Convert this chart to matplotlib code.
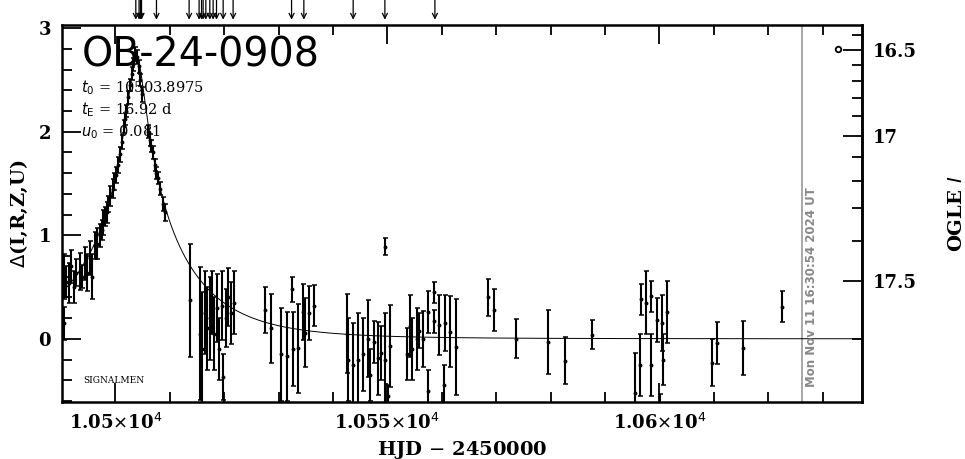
import numpy as np
import matplotlib.pyplot as plt
from matplotlib.ticker import MultipleLocator, FixedLocator

# event parameters (as printed on the chart)
t0, tE, u0 = 10503.8975, 16.92, 0.081

# observations: HJD-2450000, Delta(I,R,Z,U), error
t_obs = [10490.3, 10490.5, 10490.55, 10491.0, 10491.45, 10491.95, 10492.35, 10492.75,
         10493.45, 10493.8, 10494.4, 10494.8, 10495.3, 10495.75, 10496.2, 10496.65, 10497.15,
         10497.5, 10497.75, 10498.1, 10498.4, 10498.7, 10499.0, 10499.5, 10499.8, 10500.1,
         10500.5, 10500.8, 10501.15, 10501.55, 10501.8, 10502.05, 10502.4, 10502.7, 10503.0,
         10503.3, 10503.7, 10503.95, 10504.3, 10504.6, 10504.85, 10505.95, 10506.3, 10506.6,
         10506.9, 10507.25, 10507.55, 10507.8, 10508.2, 10508.7, 10509.1,
         10513.7, 10515.53, 10515.9, 10516.45, 10516.82, 10517.37, 10517.74, 10518.1,
         10518.66, 10519.0, 10519.58, 10519.76, 10520.31, 10520.68, 10521.23, 10521.78,
         10527.48, 10528.58, 10530.42, 10531.52, 10532.44, 10532.63, 10533.55, 10534.47,
         10534.83, 10535.57, 10536.49,
         10542.55, 10542.74, 10543.66, 10544.58, 10545.5, 10546.42, 10546.78, 10547.52,
         10548.25, 10548.8, 10549.54, 10549.6, 10550.09, 10550.46, 10553.58, 10554.14,
         10554.5, 10555.42, 10555.79, 10556.53, 10557.44, 10557.5, 10558.55, 10558.6,
         10559.47, 10560.39, 10560.57, 10561.49, 10562.59,
         10568.53, 10569.58, 10573.57, 10579.56, 10582.63, 10587.54, 10595.5, 10596.42,
         10596.6, 10597.52, 10598.35, 10598.53, 10599.49, 10600.09, 10600.4, 10600.59,
         10601.43, 10609.6, 10610.51, 10615.4, 10622.57]
d_obs = [0.60, 0.15, 0.60, 0.55, 0.54, 0.70, 0.50, 0.64,
         0.65, 0.60, 0.73, 0.64, 0.78, 0.60, 0.90, 0.92, 1.00,
         1.05, 1.12, 1.18, 1.22, 1.30, 1.38, 1.45, 1.52, 1.58,
         1.68, 1.78, 1.90, 2.05, 2.12, 2.20, 2.33, 2.45, 2.56,
         2.65, 2.76, 2.72, 2.63, 2.50, 2.36, 2.00, 1.92, 1.86,
         1.80, 1.68, 1.60, 1.55, 1.45, 1.30, 1.22,
         0.37, 0.05, -0.10, 0.25, 0.10, 0.20, 0.35, 0.05,
         0.30, -0.10, 0.32, -0.37, 0.20, 0.40, 0.25, 0.35,
         0.28, 0.10, -0.15, -0.17, 0.48, -0.10, -0.09, 0.26,
         0.06, 0.25, 0.32,
         0.05, -0.20, -0.25, -0.20, -0.15, 0.00, -0.35, -0.03,
         -0.19, -0.14, -0.20, 0.89, -0.55, -0.07, -0.15, 0.12,
         -0.10, 0.00, 0.08, 0.00, 0.26, -0.50, 0.45, 0.17,
         0.13, -0.45, 0.15, 0.07, -0.08,
         0.40, 0.28, 0.00, -0.03, -0.21, 0.04, -0.52, -0.25,
         0.38, 0.35, 0.41, -0.25, 0.18, -0.65, 0.15, -0.20,
         0.26, -0.23, -0.04, -0.09, 0.31]
e_obs = [0.19, 0.16, 0.22, 0.15, 0.19, 0.16, 0.15, 0.13,
         0.18, 0.11, 0.16, 0.18, 0.16, 0.22, 0.13, 0.15, 0.11,
         0.10, 0.12, 0.09, 0.10, 0.08, 0.10, 0.09, 0.08, 0.08,
         0.08, 0.07, 0.07, 0.06, 0.06, 0.06, 0.06, 0.06, 0.06,
         0.06, 0.06, 0.07, 0.06, 0.06, 0.07, 0.06, 0.06, 0.06,
         0.06, 0.06, 0.06, 0.06, 0.06, 0.07, 0.08,
         0.55, 0.64, 0.55, 0.40, 0.40, 0.40, 0.30, 0.35,
         0.33, 0.30, 0.33, 0.22, 0.28, 0.28, 0.30, 0.30,
         0.22, 0.33, 0.45, 0.43, 0.12, 0.36, 0.43, 0.27,
         0.33, 0.26, 0.20,
         0.38, 0.40, 0.40, 0.45, 0.35, 0.37, 0.25, 0.20,
         0.35, 0.26, 0.45, 0.08, 0.10, 0.40, 0.25, 0.30,
         0.30, 0.30, 0.17, 0.27, 0.20, 0.20, 0.10, 0.11,
         0.29, 0.20, 0.27, 0.34, 0.46,
         0.18, 0.20, 0.19, 0.31, 0.23, 0.14, 0.38, 0.30,
         0.15, 0.30, 0.15, 0.30, 0.21, 0.12, 0.27, 0.25,
         0.30, 0.23, 0.20, 0.26, 0.15]

# epochs marked with arrows above the frame
arrow_t = [10503.77, 10504.37, 10504.63, 10504.82, 10507.57, 10513.57, 10515.4,
           10515.85, 10516.14, 10516.64, 10517.37, 10517.98, 10518.6, 10519.82,
           10521.65, 10532.39, 10534.65, 10543.71, 10549.54, 10558.73]

xmin, xmax = 10490.2, 10637.2
ymin, ymax = -0.61, 3.03
m_base, f_src = 17.6, 0.145   # OGLE I baseline and source flux fraction


def d2m(d):
    d = np.asarray(d, dtype=float)
    return m_base - 2.5 * np.log10((1 - f_src) + f_src * 10 ** (0.4 * d))


def m2d(m):
    m = np.asarray(m, dtype=float)
    f = 10 ** (-0.4 * (m - m_base))
    a = np.clip((f - (1 - f_src)) / f_src, 1e-3, None)
    return 2.5 * np.log10(a)


plt.rcParams['font.family'] = 'DejaVu Serif'

fig = plt.figure(figsize=(9.65, 4.59), dpi=100)
ax = fig.add_axes([0.0642, 0.1242, 0.829, 0.8214])

# model light curve from the printed parameters
tt = np.linspace(xmin, xmax, 3000)
uu = np.sqrt(u0 ** 2 + ((tt - t0) / tE) ** 2)
amp = (uu ** 2 + 2) / (uu * np.sqrt(uu ** 2 + 4))
ax.plot(tt, 2.5 * np.log10(amp), color='black', lw=0.7, zorder=2)

ax.errorbar(t_obs, d_obs, yerr=e_obs, fmt='o', ms=1.8, color='black',
            ecolor='black', elinewidth=1.5, capsize=1.8, capthick=1.1, zorder=3)

ax.plot([10632.8], [2.80], 'o', mfc='white', mec='black', ms=4, mew=1.3)

ax.axvline(10626.2, color='#999999', lw=1.2, zorder=1)
ax.text(10628.0, -0.47, 'Mon Nov 11 16:30:54 2024 UT', rotation=90,
        color='#888888', fontsize=8.5, fontweight='bold',
        ha='center', va='bottom', family='DejaVu Sans')

for ta in arrow_t:
    ax.annotate('', xy=(ta, 1.014), xytext=(ta, 1.068),
                xycoords=('data', 'axes fraction'),
                arrowprops=dict(arrowstyle='->', lw=0.9, color='black',
                                mutation_scale=9, shrinkA=0, shrinkB=0))

ax.text(0.025, 0.92, 'OB-24-0908', transform=ax.transAxes, fontsize=28.5,
        family='DejaVu Sans', va='center', ha='left')
ax.text(0.024, 0.833, r'$t_0$ = 10503.8975', transform=ax.transAxes,
        fontsize=10.5, va='center')
ax.text(0.024, 0.775, r'$t_{\rm E}$ = 16.92 d', transform=ax.transAxes,
        fontsize=10.5, va='center')
ax.text(0.024, 0.716, r'$u_0$ = 0.081', transform=ax.transAxes,
        fontsize=10.5, va='center')
ax.text(0.026, 0.056, 'SIGNALMEN', transform=ax.transAxes, fontsize=6.5,
        va='center')

ax.set_xlim(xmin, xmax)
ax.set_ylim(ymin, ymax)

ax.xaxis.set_major_locator(FixedLocator([10500, 10550, 10600]))
ax.set_xticklabels([r'1.05$\times$10$^4$', r'1.055$\times$10$^4$',
                    r'1.06$\times$10$^4$'])
ax.xaxis.set_minor_locator(MultipleLocator(10))
ax.yaxis.set_major_locator(MultipleLocator(1))
ax.yaxis.set_minor_locator(MultipleLocator(0.2))

ax.tick_params(which='both', direction='in', top=True, right=False, width=1.3)
ax.tick_params(which='major', length=14, labelsize=13, pad=8)
ax.tick_params(which='minor', length=7)
for lab in ax.get_xticklabels() + ax.get_yticklabels():
    lab.set_fontweight('bold')
for s in ax.spines.values():
    s.set_linewidth(1.8)

ax.set_xlabel(r'HJD $-$ 2450000', fontsize=14, fontweight='bold', labelpad=4)
ax.set_ylabel(r'$\Delta$(I,R,Z,U)', fontsize=14, fontweight='bold', labelpad=6)

sec = ax.secondary_yaxis('right', functions=(d2m, m2d))
sec.set_yticks([16.5, 17, 17.5], labels=['16.5', '17', '17.5'])
sec.yaxis.set_minor_locator(FixedLocator(np.round(np.arange(16.4, 17.65, 0.1), 2)))
sec.tick_params(which='both', direction='in', width=1.3)
sec.tick_params(which='major', length=14, labelsize=13, pad=8)
sec.tick_params(which='minor', length=7)
for lab in sec.get_yticklabels():
    lab.set_fontweight('bold')
sec.set_ylabel(r'OGLE $I$', fontsize=14, fontweight='bold', labelpad=22)
sec.spines['right'].set_linewidth(1.8)

fig.savefig('out.png', dpi=100)
